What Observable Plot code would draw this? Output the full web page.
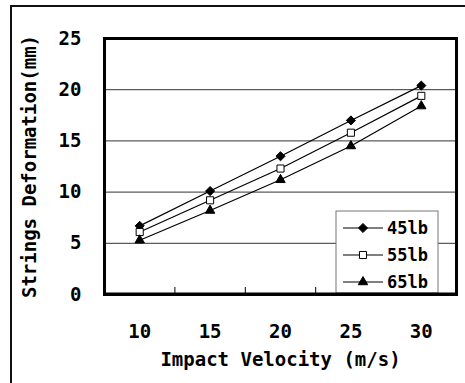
<!DOCTYPE html>
<html>
<head>
<meta charset="utf-8">
<script src="https://cdn.jsdelivr.net/npm/d3@7"></script>
<script src="https://cdn.jsdelivr.net/npm/@observablehq/plot@0.6"></script>
<style>
  html, body { margin: 0; padding: 0; background: #fff; overflow: hidden; }
  #wrap { position: relative; width: 465px; height: 383px; overflow: hidden; }
  #outer { position: absolute; left: 10px; top: 5px; width: 600px; height: 600px;
           border-left: 2px solid #111; border-top: 2px solid #111; pointer-events: none; }
  svg text { font-family: "DejaVu Sans Mono", monospace; font-weight: bold; }
</style>
</head>
<body>
<div id="wrap"><div id="outer"></div></div>
<script>
// Impact velocity (m/s)
const velocities = [10, 15, 20, 25, 30];
// String deformation (mm) per string tension
const tension45 = [6.7, 10.1, 13.5, 17.0, 20.4];
const tension55 = [6.1, 9.2, 12.3, 15.8, 19.4];
const tension65 = [5.3, 8.2, 11.2, 14.5, 18.4];
const seriesNames = ["45lb", "55lb", "65lb"];
const yTicks = [0, 5, 10, 15, 20, 25];
const gridValues = [5, 10, 15, 20];
const minorTicks = [12.5, 17.5, 22.5, 27.5];

const seriesValues = [tension45, tension55, tension65];
const rows = seriesNames.flatMap((name, i) =>
  velocities.map((v, j) => ({series: name, velocity: v, deformation: seriesValues[i][j]})));

const symbolOf = {"45lb": "diamond2", "55lb": "square", "65lb": "triangle"};
const fillOf = {"45lb": "black", "55lb": "white", "65lb": "black"};
const rOf = {"45lb": 4.1, "55lb": 4.0, "65lb": 3.5};

const marks = [
  Plot.ruleY(gridValues, {stroke: "#333", strokeWidth: 1}),
  // short inside ticks between the velocity categories
  Plot.ruleX(minorTicks, {y1: 0, y2: 0, insetTop: -7, stroke: "black", strokeWidth: 1}),
  Plot.axisY(yTicks, {tickSize: 0, tickPadding: 23, fontSize: 19, fill: "black", label: null}),
  Plot.axisX(velocities, {tickSize: 0, tickPadding: 30, fontSize: 19, fill: "black", label: null}),
  Plot.text(["Impact Velocity (m/s)"], {frameAnchor: "bottom", dy: 71, fontSize: 19, fill: "black"}),
  Plot.text(["Strings Deformation(mm)"], {frameAnchor: "left", textAnchor: "middle", dx: -75,
    rotate: -90, fontSize: 19, fill: "black"})
];
for (const name of seriesNames) {
  const data = rows.filter(d => d.series === name);
  marks.push(Plot.line(data, {x: "velocity", y: "deformation", stroke: "black", strokeWidth: 1.2}));
  marks.push(Plot.dot(data, {x: "velocity", y: "deformation", symbol: () => symbolOf[name],
    fill: fillOf[name], stroke: "black", strokeWidth: 1, r: rOf[name]}));
}
marks.push(Plot.frame({stroke: "black", strokeWidth: 3}));

const chart = Plot.plot({
  width: 465,
  height: 383,
  marginLeft: 104,
  marginRight: 9,
  marginTop: 38,
  marginBottom: 89,
  style: {background: "transparent", overflow: "visible"},
  x: {type: "linear", domain: [7.5, 32.5], axis: null},
  y: {domain: [0, 25], axis: null},
  symbol: {type: "identity"},
  marks
});

document.getElementById("wrap").appendChild(chart);

// Legend box drawn inside the plot area, lower right
const svg = d3.select(chart);
const lg = svg.append("g").attr("text-anchor", "start");
lg.append("rect").attr("x", 336).attr("y", 211).attr("width", 102).attr("height", 82)
  .attr("fill", "white").attr("stroke", "#777").attr("stroke-width", 1);
const legendY = [228, 255, 282];
const sym = {"45lb": d3.symbolDiamond2, "55lb": d3.symbolSquare, "65lb": d3.symbolTriangle};
seriesNames.forEach((name, i) => {
  const y = legendY[i];
  lg.append("line").attr("x1", 343).attr("x2", 383).attr("y1", y).attr("y2", y)
    .attr("stroke", "black").attr("stroke-width", 1.2);
  const r = rOf[name];
  lg.append("path").attr("transform", `translate(363,${y})`)
    .attr("d", d3.symbol(sym[name], Math.PI * r * r)())
    .attr("fill", fillOf[name]).attr("stroke", "black").attr("stroke-width", 1);
  lg.append("text").attr("x", 387).attr("y", y).attr("dy", "0.35em")
    .attr("font-size", 17).attr("fill", "black").text(name);
});
// redraw the bottom frame edge over the legend box
svg.append("line").attr("x1", 104).attr("x2", 456).attr("y1", 294).attr("y2", 294)
  .attr("stroke", "black").attr("stroke-width", 3);
</script>
</body>
</html>
